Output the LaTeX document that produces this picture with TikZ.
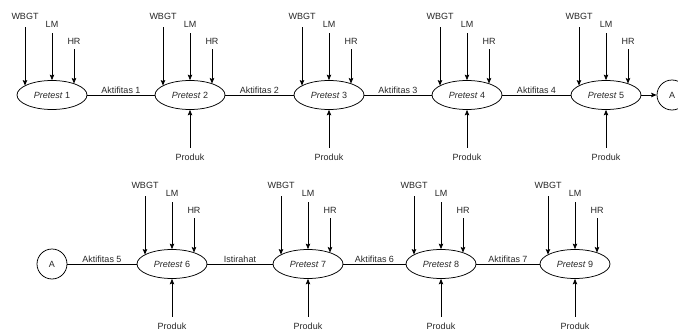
\documentclass[tikz,border=0pt]{standalone}
\usepackage{fontspec}
\setmainfont{Liberation Sans}
\usetikzlibrary{shapes.geometric,arrows.meta}
\newcommand\pretestunit[3]{%
  \node[ell] (p#1) at (#2,#3) {\textit{Pretest} #1};
  \node[lbl] (w#1) at (#2-27,#3-79) {WBGT};
  \node[lbl] (l#1) at (#2,#3-71) {LM};
  \node[lbl] (h#1) at (#2+22,#3-54) {HR};
  \draw[arr,shorten <=7.75pt] (w#1.south) -- (w#1.south |- p#1.161);
  \draw[arr,shorten <=5.75pt] (l#1.south) -- (p#1.north);
  \draw[arr,shorten <=4.75pt] (h#1.south) -- (h#1.south |- p#1.27);
}
\newcommand\produkunit[3]{%
  \node[lbl] (pr#1) at (#2,#3+62) {Produk};
  \draw[arr,shorten <=5.75pt] (pr#1.north) -- (p#1.south);
}
\begin{document}
\begin{tikzpicture}[x=1pt,y=-1pt,
  every node/.style={font=\fontsize{9}{10}\selectfont, text=black!85},
  ell/.style={draw, ellipse, line width=0.75pt, minimum width=70pt, minimum height=29pt, inner sep=0pt},
  circ/.style={draw, circle, line width=0.75pt, minimum size=30pt, inner sep=0pt},
  lbl/.style={inner sep=0pt, text height=6.5pt, text depth=0pt},
  elab/.style={midway, above, inner sep=1.5pt, text height=6.5pt, text depth=0pt},
  arr/.style={-{Stealth[length=5.5pt,width=4.5pt,inset=1pt]}, line width=0.75pt},
  conn/.style={line width=0.75pt}]
\useasboundingbox (0,0) rectangle (678,332);
% top row
\pretestunit{1}{52}{95}
\pretestunit{2}{190}{95}
\pretestunit{3}{329}{95}
\pretestunit{4}{467}{95}
\pretestunit{5}{606}{95}
\produkunit{2}{190}{95}
\produkunit{3}{329}{95}
\produkunit{4}{467}{95}
\produkunit{5}{606}{95}
\node[circ] (a1) at (672,95) {A};
\draw[conn] (p1) -- node[elab]{Aktifitas 1} (p2);
\draw[conn] (p2) -- node[elab]{Aktifitas 2} (p3);
\draw[conn] (p3) -- node[elab]{Aktifitas 3} (p4);
\draw[conn] (p4) -- node[elab]{Aktifitas 4} (p5);
\draw[arr] (p5) -- (a1);
% bottom row
\pretestunit{6}{172}{264}
\pretestunit{7}{308}{264}
\pretestunit{8}{441}{264}
\pretestunit{9}{575}{264}
\produkunit{6}{172}{264}
\produkunit{7}{308}{264}
\produkunit{8}{441}{264}
\produkunit{9}{575}{264}
\node[circ] (a2) at (52,264) {A};
\draw[conn] (a2) -- node[elab]{Aktifitas 5} (p6);
\draw[conn] (p6) -- node[elab]{Istirahat} (p7);
\draw[conn] (p7) -- node[elab]{Aktifitas 6} (p8);
\draw[conn] (p8) -- node[elab]{Aktifitas 7} (p9);
\end{tikzpicture}
\end{document}
